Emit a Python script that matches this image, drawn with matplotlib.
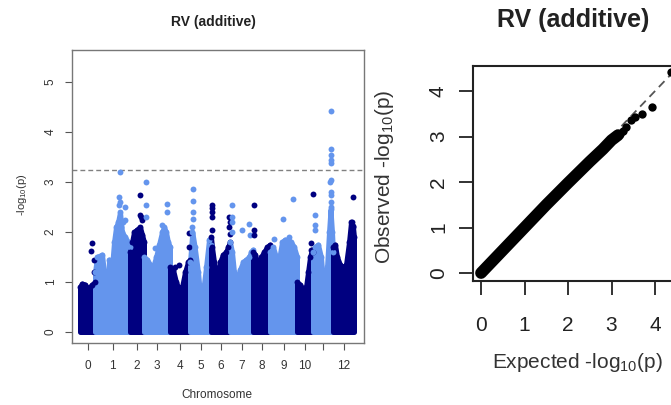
import numpy as np
import matplotlib
matplotlib.use('Agg')
import matplotlib.pyplot as plt

plt.rcParams['font.family'] = ['Liberation Sans', 'DejaVu Sans']
plt.rcParams['mathtext.fontset'] = 'custom'
plt.rcParams['mathtext.rm'] = 'Liberation Sans'
plt.rcParams['mathtext.default'] = 'rm'

# chromosome lengths (arbitrary units)
chrom_names = ['0', '1', '2', '3', '4', '5', '6', '7', '8', '9', '10', '11', '12']
chrom_len = [15, 35, 14, 26, 20, 21, 19, 23, 17, 27, 16, 20, 21]
tick_labels = ['0', '1', '2', '3', '4', '5', '6', '7', '8', '9', '10', '', '12']

# upper edge of the dense point cloud: (position in chromosome, -log10 p)
env_pos = [
    [0, 2, 5, 8, 10, 12, 15],
    [0, 2, 7, 9, 11, 13, 14, 17, 19, 21, 23, 25, 27, 30, 33, 35],
    [0, 2, 4, 7, 10, 12, 14],
    [0, 3, 6, 9, 12, 15, 18, 20, 22, 24, 26],
    [0, 3, 6, 9, 12, 15, 18, 20],
    [0, 2.3, 4.7, 8, 11, 13, 16, 19, 21],
    [0, 1, 3, 5, 6, 7, 9, 12, 15, 17, 19],
    [0, 2, 4, 7, 10, 13, 16, 19, 21, 23],
    [0, 2, 5, 8, 11, 14, 17],
    [0, 3, 6, 9, 12, 15, 18, 21, 24, 27],
    [0, 3, 6, 9, 11, 13, 15, 16],
    [0, 2, 5, 8, 10, 12, 14, 16, 17.5, 19, 20],
    [0, 2, 4, 7, 10, 13, 16, 18, 20, 21],
]
env_val = [
    [0.9, 0.97, 0.95, 0.85, 0.9, 0.95, 1.0],
    [1.2, 1.5, 1.55, 1.2, 1.0, 0.9, 1.45, 1.3, 1.8, 2.1, 2.2, 2.4, 2.0, 1.9, 1.8, 1.7],
    [1.6, 1.8, 2.0, 2.05, 2.1, 1.95, 1.8],
    [1.5, 1.45, 1.35, 1.3, 1.5, 1.75, 2.0, 2.1, 2.0, 1.8, 1.7],
    [1.3, 1.25, 1.0, 0.85, 0.9, 1.2, 1.4, 1.45],
    [1.4, 2.0, 1.7, 1.2, 0.55, 0.8, 1.3, 1.85, 1.75],
    [1.9, 1.7, 1.4, 1.2, 0.4, 0.9, 1.4, 1.55, 1.6, 1.7, 1.8],
    [1.8, 1.6, 1.2, 1.05, 1.25, 1.4, 1.45, 1.5, 1.6, 1.65],
    [1.6, 1.55, 1.3, 1.5, 1.6, 1.7, 1.75],
    [1.6, 1.7, 1.5, 1.45, 1.8, 1.85, 1.85, 1.8, 1.7, 1.5],
    [1.0, 0.95, 0.85, 0.9, 1.2, 1.5, 1.65, 1.6],
    [1.6, 1.7, 1.75, 1.5, 1.0, 0.95, 1.3, 2.0, 2.45, 2.0, 1.6],
    [1.7, 1.75, 1.5, 1.35, 1.3, 1.35, 1.8, 2.2, 2.1, 1.9],
]

# isolated top SNPs: (position in chromosome, -log10 p)
peak_pos = [
    [11.5, 10.5, 13.5, 14],
    [24.5, 24, 25, 24, 29.5, 30, 26, 28, 3],
    [9.5, 10, 11, 12],
    [2, 1.5, 2, 22.5, 22.5, 18, 11],
    [9, 5, 19, 18.5],
    [2.5, 2.5, 2.5, 2.5, 2.3],
    [0.5, 0.5, 0.5, 0.7, 0.5, 18, 18.5, 18.5, 18],
    [2, 2, 2.3, 2, 12, 19, 20],
    [1, 1, 1],
    [4, 13.3, 23.3, 19],
    [15.5, 13.5, 14],
    [1.5, 2, 2, 17.5, 17.5, 17.5, 17.5, 17.5, 17.5, 17.3, 17.5, 17.5, 17.5, 17.5],
    [19.5, 19, 19.5, 19],
]
peak_val = [
    [1.79, 1.62, 1.45, 1.2],
    [3.2, 2.7, 2.6, 2.55, 2.5, 2.25, 2.1, 2.2, 1.5],
    [2.73, 2.35, 2.3, 2.25],
    [3.0, 2.55, 2.3, 2.57, 2.4, 2.15, 1.68],
    [1.35, 1.3, 1.98, 1.7],
    [2.85, 2.62, 2.4, 2.27, 2.1],
    [2.55, 2.47, 2.4, 2.3, 2.05, 2.3, 2.2, 1.97, 2.1],
    [2.54, 2.3, 2.2, 2.0, 2.04, 2.16, 1.95],
    [2.55, 2.05, 1.95],
    [1.87, 2.26, 2.65, 1.9],
    [2.75, 1.78, 1.64],
    [2.34, 2.14, 2.04, 4.41, 3.66, 3.54, 3.44, 3.37, 3.05, 3.0, 2.8, 2.74, 2.6, 2.5],
    [2.69, 2.2, 2.12, 2.0],
]
threshold = 3.24

# QQ plot: dense band and the upper tail
qq_band_exp = [0.0, 0.5, 1.0, 1.5, 2.0, 2.5, 2.8, 3.0, 3.15]
qq_band_obs = [0.0, 0.5, 1.0, 1.5, 1.98, 2.45, 2.72, 2.92, 3.03]
qq_tail_exp = [4.37, 3.92, 3.70, 3.55, 3.44, 3.34, 3.26, 3.19]
qq_tail_obs = [4.41, 3.64, 3.50, 3.42, 3.36, 3.22, 3.12, 3.05]

dark = '#000080'
light = '#6495ED'

W, H = 671, 405
fig = plt.figure(figsize=(W / 100, H / 100), dpi=100)

# ---- Manhattan plot ----
ax1 = fig.add_axes([72 / W, 1 - 343 / H, 292 / W, 293 / H])
starts = np.concatenate([[0], np.cumsum(chrom_len)[:-1]])
centers = []
for i in range(len(chrom_len)):
    col = dark if i % 2 == 0 else light
    x = starts[i] + np.array(env_pos[i], dtype=float)
    y = np.array(env_val[i])
    ax1.fill_between(x, 0, y, facecolor=col, edgecolor=col, linewidth=3.6,
                     joinstyle='round', zorder=2)
    ax1.scatter(x, y, s=18, color=col, linewidths=0, zorder=3)
    px = starts[i] + np.array(peak_pos[i], dtype=float)
    ax1.scatter(px, peak_val[i], s=18, color=col, linewidths=0, zorder=3)
    centers.append(starts[i] + chrom_len[i] / 2)

ax1.axhline(threshold, color='#808080', linestyle=(0, (3.5, 2.2)), linewidth=1.0, zorder=1)
ax1.set_xlim(-8, 284)
ax1.set_ylim(-0.22, 5.64)
ax1.set_xticks(centers)
ax1.set_xticklabels(tick_labels)
ax1.set_yticks([0, 1, 2, 3, 4, 5])
ax1.tick_params(axis='both', direction='out', length=5, width=0.8, color='#555555',
                labelsize=8.5, labelcolor='#333333')
ax1.tick_params(axis='x', pad=7)
ax1.tick_params(axis='y', pad=6)
for lab in ax1.get_yticklabels():
    lab.set_rotation(90)
    lab.set_va('center')
for s in ax1.spines.values():
    s.set_color('#777777')
    s.set_linewidth(1.0)

fig.text(213 / W, 1 - 22 / H, 'RV (additive)', ha='center', va='center',
         fontsize=10, fontweight='bold', color='#222222')
fig.text(217 / W, 1 - 395 / H, 'Chromosome', ha='center', va='center',
         fontsize=8.5, color='#333333')
fig.text(22 / W, 1 - 195 / H, r'-log$_{10}$(p)', ha='center', va='center',
         fontsize=8, rotation=90, color='#333333')

# ---- QQ plot ----
ax2 = fig.add_axes([473 / W, 1 - 281 / H, 227 / W, 215 / H])
ax2.plot([0, 5], [0, 5], color='#555555', linestyle=(0, (4.5, 3)), linewidth=1.3, zorder=1)
ax2.plot(qq_band_exp, qq_band_obs, color='black', linewidth=8.5,
         solid_capstyle='round', solid_joinstyle='round', zorder=2)
ax2.scatter(qq_tail_exp, qq_tail_obs, s=36, color='black', linewidths=0, zorder=3)
ax2.set_xlim(-0.185, -0.185 + 227 / 43.5)
ax2.set_ylim(-0.176, 4.55)
ax2.set_xticks([0, 1, 2, 3, 4])
ax2.set_yticks([0, 1, 2, 3, 4])
ax2.tick_params(axis='both', direction='out', length=10, width=1.3, color='#222222',
                labelsize=15, labelcolor='#222222')
ax2.tick_params(axis='x', pad=15)
ax2.tick_params(axis='y', pad=8)
for lab in ax2.get_yticklabels():
    lab.set_rotation(90)
    lab.set_va('center')
for s in ax2.spines.values():
    s.set_color('#222222')
    s.set_linewidth(1.5)

fig.text(573 / W, 1 - 20 / H, 'RV (additive)', ha='center', va='center',
         fontsize=18, fontweight='bold', color='#222222')
fig.text(577 / W, 1 - 363 / H, r'Expected -log$_{10}$(p)', ha='center', va='center',
         fontsize=15, color='#333333')
fig.text(385 / W, 1 - 177 / H, r'Observed -log$_{10}$(p)', ha='center', va='center',
         fontsize=15, rotation=90, color='#333333')

fig.savefig('out.png', dpi=100)
